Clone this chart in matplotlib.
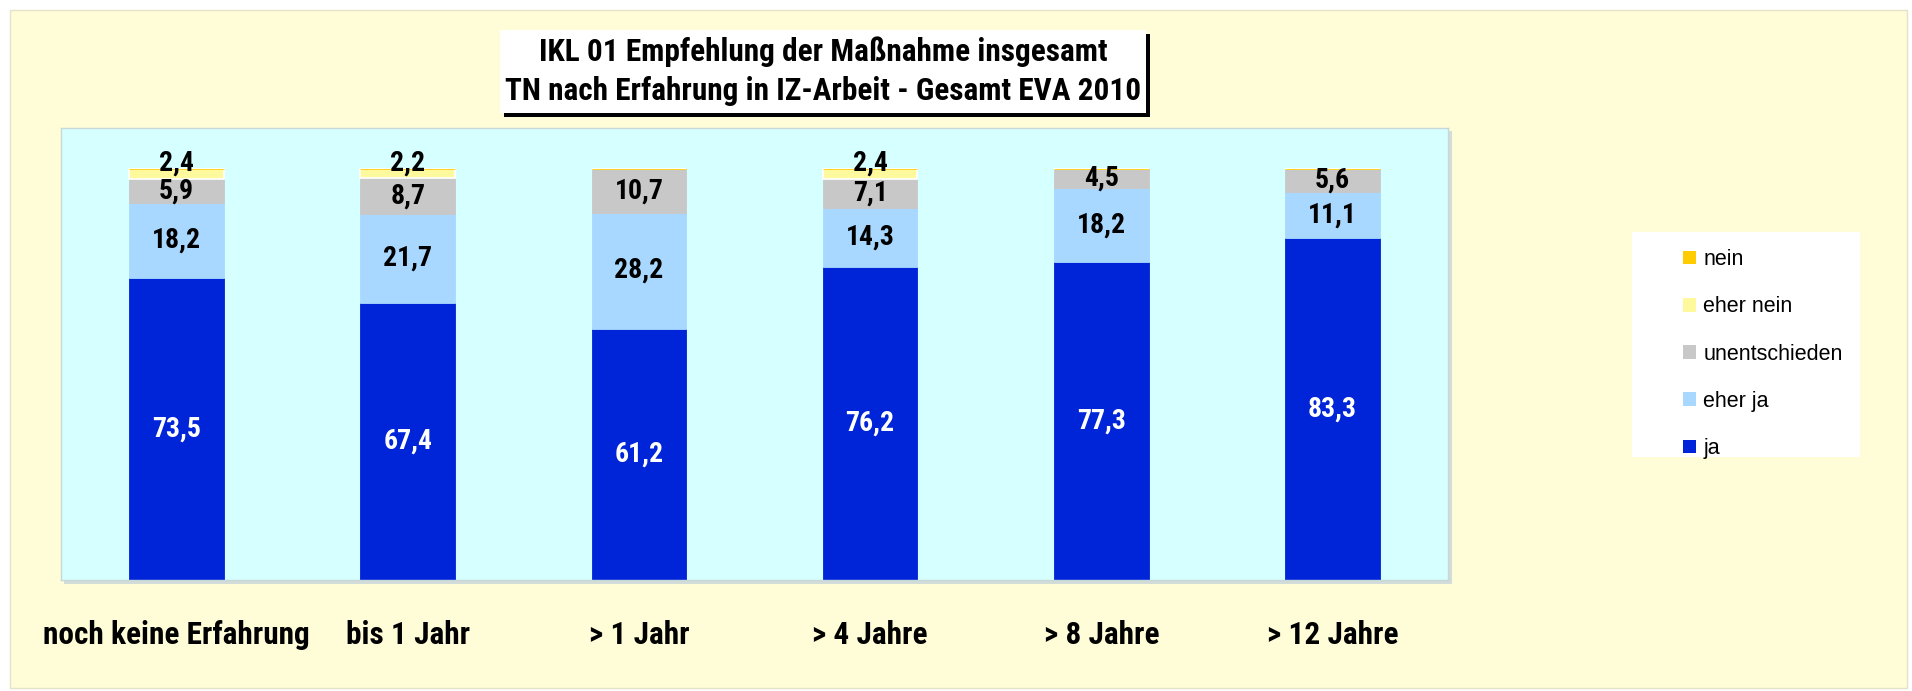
import matplotlib.pyplot as plt
from matplotlib.patches import Rectangle, Patch

# data (percent)
categories = ["noch keine Erfahrung", "bis 1 Jahr", "> 1 Jahr", "> 4 Jahre", "> 8 Jahre", "> 12 Jahre"]
ja = [73.5, 67.4, 61.2, 76.2, 77.3, 83.3]
eher_ja = [18.2, 21.7, 28.2, 14.3, 18.2, 11.1]
unentschieden = [5.9, 8.7, 10.7, 7.1, 4.5, 5.6]
eher_nein = [2.4, 2.2, 0.0, 2.4, 0.0, 0.0]
nein = [0.0, 0.0, 0.0, 0.0, 0.0, 0.0]

title = "IKL 01 Empfehlung der Maßnahme insgesamt\nTN nach Erfahrung in IZ-Arbeit - Gesamt EVA 2010"

W, H = 1912, 691
NARROW = ["Liberation Sans Narrow", "Roboto Condensed", "Liberation Sans", "DejaVu Sans"]
plt.rcParams["font.family"] = ["Liberation Sans", "DejaVu Sans"]


def fx(x):
	return x / W


def fy(y):
	return 1 - y / H


fig = plt.figure(figsize=(W / 100, H / 100), dpi=100)
fig.patch.set_facecolor("white")

# yellow panel behind everything
fig.patches.append(Rectangle((fx(10), fy(688)), fx(1907) - fx(10), fy(10) - fy(688),
	transform=fig.transFigure, facecolor="#FFFDD8", edgecolor="#E4E2C8", lw=1, zorder=0))

# plot area with a light shadow
fig.patches.append(Rectangle((fx(64), fy(584)), fx(1452) - fx(64), fy(131) - fy(584),
	transform=fig.transFigure, facecolor="#D2DCD8", edgecolor="none", zorder=1))
ax = fig.add_axes([fx(61), fy(580), fx(1448) - fx(61), fy(128) - fy(580)])
ax.set_facecolor("#D6FFFF")
ax.set_zorder(2)

series = [
	("ja", ja, "#0024D8", "white"),
	("eher ja", eher_ja, "#A8D8FF", "black"),
	("unentschieden", unentschieden, "#C8C8C8", "black"),
	("eher nein", eher_nein, "#FFF99E", "black"),
	("nein", nein, "#FFCC00", "black"),
]

x = list(range(len(categories)))
bottom = [0.0] * len(categories)
bar_w = 0.41
for name, vals, color, tcol in series:
	edge = "white" if name == "eher nein" else color
	ax.bar(x, vals, bar_w, bottom=bottom, color=color, edgecolor=edge, linewidth=1.2 if name == "eher nein" else 0.6)
	for i, v in enumerate(vals):
		if v <= 0:
			continue
		yc = bottom[i] + v / 2
		if name == "eher nein":
			yc += 2.6
		ax.text(i, yc, f"{v:.1f}".replace(".", ","), ha="center", va="center",
			color=tcol, fontsize=20, fontweight="bold", family=NARROW)
	bottom = [b + v for b, v in zip(bottom, vals)]

ax.set_xlim(-0.5, len(categories) - 0.5)
ax.set_ylim(0, 110)
ax.set_yticks([])
ax.set_xticks(x)
ax.set_xticklabels(categories, fontsize=22.5, fontweight="bold", family=NARROW)
ax.tick_params(axis="x", length=0, pad=29)
for s in ax.spines.values():
	s.set_color("#C8D8D8")
	s.set_linewidth(1)

# title box with a black drop shadow
fig.patches.append(Rectangle((fx(504), fy(117)), fx(1150) - fx(504), fy(34) - fy(117),
	transform=fig.transFigure, facecolor="black", edgecolor="none", zorder=3))
fig.patches.append(Rectangle((fx(500), fy(113)), fx(1146) - fx(500), fy(30) - fy(113),
	transform=fig.transFigure, facecolor="white", edgecolor="none", zorder=4))
fig.text(fx(823), fy(71), title, ha="center", va="center", fontsize=22.5, fontweight="bold",
	family=NARROW, linespacing=1.36, zorder=5)

# legend on a white box
fig.patches.append(Rectangle((fx(1632), fy(457)), fx(1860) - fx(1632), fy(232) - fy(457),
	transform=fig.transFigure, facecolor="white", edgecolor="none", zorder=3))
handles = [Patch(facecolor=c, edgecolor="none", label=n) for n, _, c, _ in reversed(series)]
leg = fig.legend(handles=handles, loc="upper left", bbox_to_anchor=(fx(1683), fy(249)),
	frameon=False, fontsize=15.5, handlelength=0.6, handleheight=0.6, handletextpad=0.35,
	labelspacing=1.22, borderaxespad=0, borderpad=0)
leg.set_zorder(6)

fig.savefig("out.png", dpi=100, facecolor=fig.get_facecolor())
